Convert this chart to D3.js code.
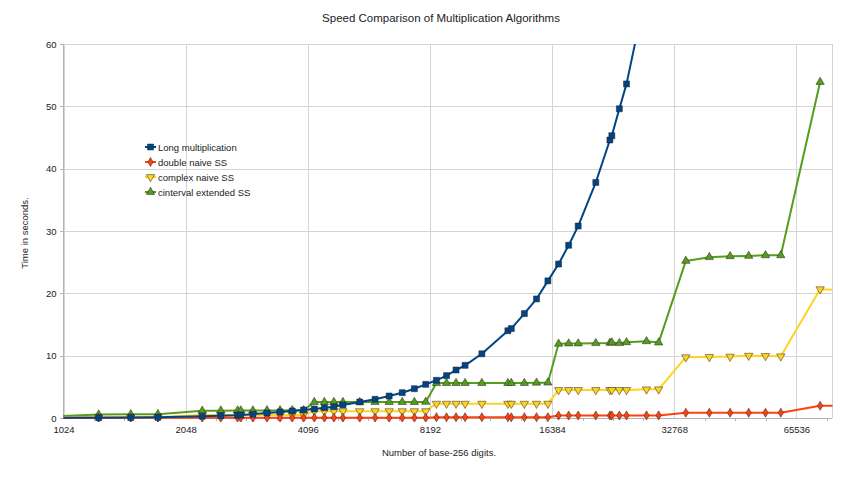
<!DOCTYPE html>
<html lang="en">
<head>
    <meta charset="UTF-8">
    <title>Speed Comparison of Multiplication Algorithms</title>
    <script src="https://d3js.org/d3.v7.min.js"></script>
    <style>
        body { margin: 0; background: #fff; }
        text { font-family: "Liberation Sans", Arial, sans-serif; fill: #222; }
        .grid-line { stroke: #d4d4d4; stroke-width: 1px; shape-rendering: crispEdges; }
        .axis-line { stroke: #b3b3b3; stroke-width: 1px; shape-rendering: crispEdges; }
        .series-line { fill: none; stroke-width: 2px; stroke-linejoin: round; }
    </style>
</head>
<body>
    <div id="chart"></div>

    <script>
        // number of base-256 digits (x values)
        const digits = [1000, 1250, 1500, 1750, 2250, 2500, 2750, 2800, 3000, 3250, 3500, 3750, 4000,
            4250, 4500, 4750, 5000, 5500, 6000, 6500, 7000, 7500, 8000,
            8500, 9000, 9500, 10000, 11000, 12750, 13000, 14000, 15000, 16000,
            17000, 18000, 19000, 21000, 22750, 23000, 24000, 25000, 28000, 30000,
            35000, 40000, 45000, 50000, 55000, 60000, 75000, 90000];

        const longMult = [0.03, 0.05, 0.08, 0.12, 0.3, 0.38, 0.46, 0.5, 0.62, 0.8, 0.97, 1.12, 1.28,
            1.45, 1.65, 1.82, 2.1, 2.57, 3.0, 3.53, 4.06, 4.7, 5.4,
            6.05, 6.8, 7.7, 8.45, 10.3, 14.0, 14.35, 16.75, 19.1, 22.0,
            24.7, 27.7, 30.8, 37.8, 44.6, 45.3, 49.6, 53.6, 68.8, null,
            null, null, null, null, null, null, null, null];

        const doubleNaive = [0.03, 0.03, 0.03, 0.03, 0.03, 0.03, 0.03, 0.03, 0.03, 0.03, 0.03, 0.03, 0.03,
            0.04, 0.04, 0.04, 0.04, 0.04, 0.04, 0.04, 0.04, 0.04, 0.04,
            0.12, 0.12, 0.12, 0.12, 0.12, 0.12, 0.12, 0.12, 0.12, 0.12,
            0.4, 0.4, 0.4, 0.4, 0.4, 0.4, 0.4, 0.4, 0.42, 0.42,
            0.85, 0.85, 0.85, 0.85, 0.85, 0.85, 1.97, 1.93];

        const complexNaive = [0.12, 0.12, 0.12, 0.14, 0.5, 0.5, 0.5, 0.5, 0.5, 0.5, 0.5, 0.5, 0.5,
            1.1, 1.1, 1.1, 1.1, 1.1, 1.1, 1.1, 1.1, 1.1, 1.1,
            2.3, 2.3, 2.3, 2.3, 2.3, 2.3, 2.3, 2.3, 2.3, 2.3,
            4.5, 4.5, 4.5, 4.5, 4.5, 4.5, 4.5, 4.5, 4.6, 4.6,
            9.75, 9.8, 9.85, 10.0, 9.95, 9.9, 20.66, 20.45];

        const intervalExt = [0.3, 0.55, 0.6, 0.62, 1.15, 1.18, 1.2, 1.2, 1.2, 1.22, 1.22, 1.25, 1.25,
            2.55, 2.55, 2.55, 2.55, 2.55, 2.55, 2.55, 2.55, 2.55, 2.58,
            5.6, 5.6, 5.6, 5.6, 5.6, 5.6, 5.6, 5.6, 5.65, 5.67,
            11.9, 11.95, 11.95, 12.0, 12.05, 12.1, 12.0, 12.15, 12.3, 12.1,
            25.2, 25.8, 25.95, 26.0, 26.1, 26.1, 53.9, null];

        const seriesNames = ["Long multiplication", "double naive SS", "complex naive SS", "cinterval extended SS"];
        const seriesColors = ["#004586", "#ff420e", "#ffd320", "#579d1c"];
        const xTicks = [1024, 2048, 4096, 8192, 16384, 32768, 65536];
        const yTicks = [0, 10, 20, 30, 40, 50, 60];

        const W = 863, H = 479;
        const plot = { left: 63.5, right: 831.5, top: 44, bottom: 418 };

        const svg = d3.select("#chart")
          .append("svg")
            .attr("width", W)
            .attr("height", H);

        const x = d3.scaleLog().base(2)
            .domain([1024, 80000])
            .range([plot.left, plot.right]);

        const y = d3.scaleLinear()
            .domain([0, 60])
            .range([plot.bottom, plot.top]);

        // title
        svg.append("text")
            .attr("x", 441)
            .attr("y", 22)
            .attr("text-anchor", "middle")
            .style("font-size", "11.5px")
            .text("Speed Comparison of Multiplication Algorithms");

        // grid
        svg.selectAll(".hgrid")
            .data(yTicks)
            .enter()
            .append("line")
            .attr("class", "grid-line")
            .attr("x1", plot.left)
            .attr("x2", plot.right)
            .attr("y1", d => Math.round(y(d)) + 0.5)
            .attr("y2", d => Math.round(y(d)) + 0.5);

        svg.selectAll(".vgrid")
            .data(xTicks.concat([80000]))
            .enter()
            .append("line")
            .attr("class", "grid-line")
            .attr("x1", d => Math.round(x(d)) + 0.5)
            .attr("x2", d => Math.round(x(d)) + 0.5)
            .attr("y1", plot.top)
            .attr("y2", plot.bottom);

        // axes
        const xAxis = svg.append("g")
            .attr("transform", `translate(0,${Math.round(plot.bottom) + 0.5})`)
            .call(d3.axisBottom(x).tickValues(xTicks).tickFormat(d3.format("d")).tickSize(0).tickPadding(8));
        xAxis.select(".domain").remove();
        xAxis.selectAll("text").style("font-size", "9.5px").style("fill", "#222");

        // minor ticks on x
        const minor = [];
        xTicks.forEach(t => { [1.19, 1.41, 1.68].forEach(f => { if (t * f < 80000) minor.push(t * f); }); });
        svg.selectAll(".minor-tick")
            .data(minor)
            .enter()
            .append("line")
            .attr("class", "axis-line")
            .attr("x1", d => Math.round(x(d)) + 0.5)
            .attr("x2", d => Math.round(x(d)) + 0.5)
            .attr("y1", plot.bottom)
            .attr("y2", plot.bottom + 3);

        const yAxis = svg.append("g")
            .attr("transform", `translate(${Math.round(plot.left) - 0.5},0)`)
            .call(d3.axisLeft(y).tickValues(yTicks).tickSize(4).tickPadding(3));
        yAxis.select(".domain").remove();
        yAxis.selectAll("line").attr("class", "axis-line");
        yAxis.selectAll("text").style("font-size", "9.5px").style("fill", "#222");

        svg.append("line")
            .attr("class", "axis-line")
            .attr("x1", Math.round(plot.left) - 0.5).attr("x2", Math.round(plot.left) - 0.5)
            .attr("y1", plot.top).attr("y2", plot.bottom);
        svg.append("line")
            .attr("class", "axis-line")
            .attr("x1", plot.left).attr("x2", plot.right)
            .attr("y1", Math.round(plot.bottom) + 0.5).attr("y2", Math.round(plot.bottom) + 0.5);

        // axis titles
        svg.append("text")
            .attr("x", 439)
            .attr("y", 456)
            .attr("text-anchor", "middle")
            .style("font-size", "9.5px")
            .text("Number of base-256 digits.");

        svg.append("text")
            .attr("transform", "translate(28,233) rotate(-90)")
            .attr("text-anchor", "middle")
            .style("font-size", "9.5px")
            .text("Time in seconds.");

        // clip to plot area
        svg.append("clipPath")
            .attr("id", "plot-clip")
          .append("rect")
            .attr("x", plot.left)
            .attr("y", plot.top)
            .attr("width", plot.right - plot.left + 1)
            .attr("height", plot.bottom - plot.top + 4);

        const symbols = [
            { type: d3.symbolSquare, size: 36, rot: 0 },
            { type: d3.symbolDiamond, size: 24, rot: 0 },
            { type: d3.symbolTriangle, size: 30, rot: 180 },
            { type: d3.symbolTriangle, size: 30, rot: 0 }
        ];

        const allSeries = [longMult, doubleNaive, complexNaive, intervalExt];
        const plotG = svg.append("g").attr("clip-path", "url(#plot-clip)");

        // last series first so long multiplication ends up on top
        [3, 2, 1, 0].forEach(i => {
            const vals = allSeries[i];
            const pts = digits.map((d, j) => ({ x: d, v: vals[j] }));
            const line = d3.line()
                .defined(d => d.v != null)
                .x(d => x(d.x))
                .y(d => y(d.v));
            plotG.append("path")
                .attr("class", "series-line")
                .attr("d", line(pts))
                .style("stroke", seriesColors[i]);

            plotG.selectAll(".pt" + i)
                .data(pts.filter(d => d.v != null))
                .enter()
                .append("path")
                .attr("d", d3.symbol().type(symbols[i].type).size(symbols[i].size))
                .attr("transform", d => `translate(${x(d.x)},${y(d.v)}) rotate(${symbols[i].rot})`)
                .style("fill", seriesColors[i])
                .style("stroke", "#222")
                .style("stroke-width", 0.5);
        });

        // legend
        const legend = svg.append("g");
        seriesNames.forEach((name, i) => {
            const ly = 147 + i * 15;
            legend.append("line")
                .attr("x1", 145).attr("x2", 156)
                .attr("y1", ly).attr("y2", ly)
                .style("stroke", seriesColors[i])
                .style("stroke-width", 2);
            legend.append("path")
                .attr("d", d3.symbol().type(symbols[i].type).size(symbols[i].size))
                .attr("transform", `translate(150.5,${ly}) rotate(${symbols[i].rot})`)
                .style("fill", seriesColors[i])
                .style("stroke", "#222")
                .style("stroke-width", 0.5);
            legend.append("text")
                .attr("x", 158)
                .attr("y", ly + 3.5)
                .style("font-size", "9.5px")
                .text(name);
        });
    </script>
</body>
</html>
